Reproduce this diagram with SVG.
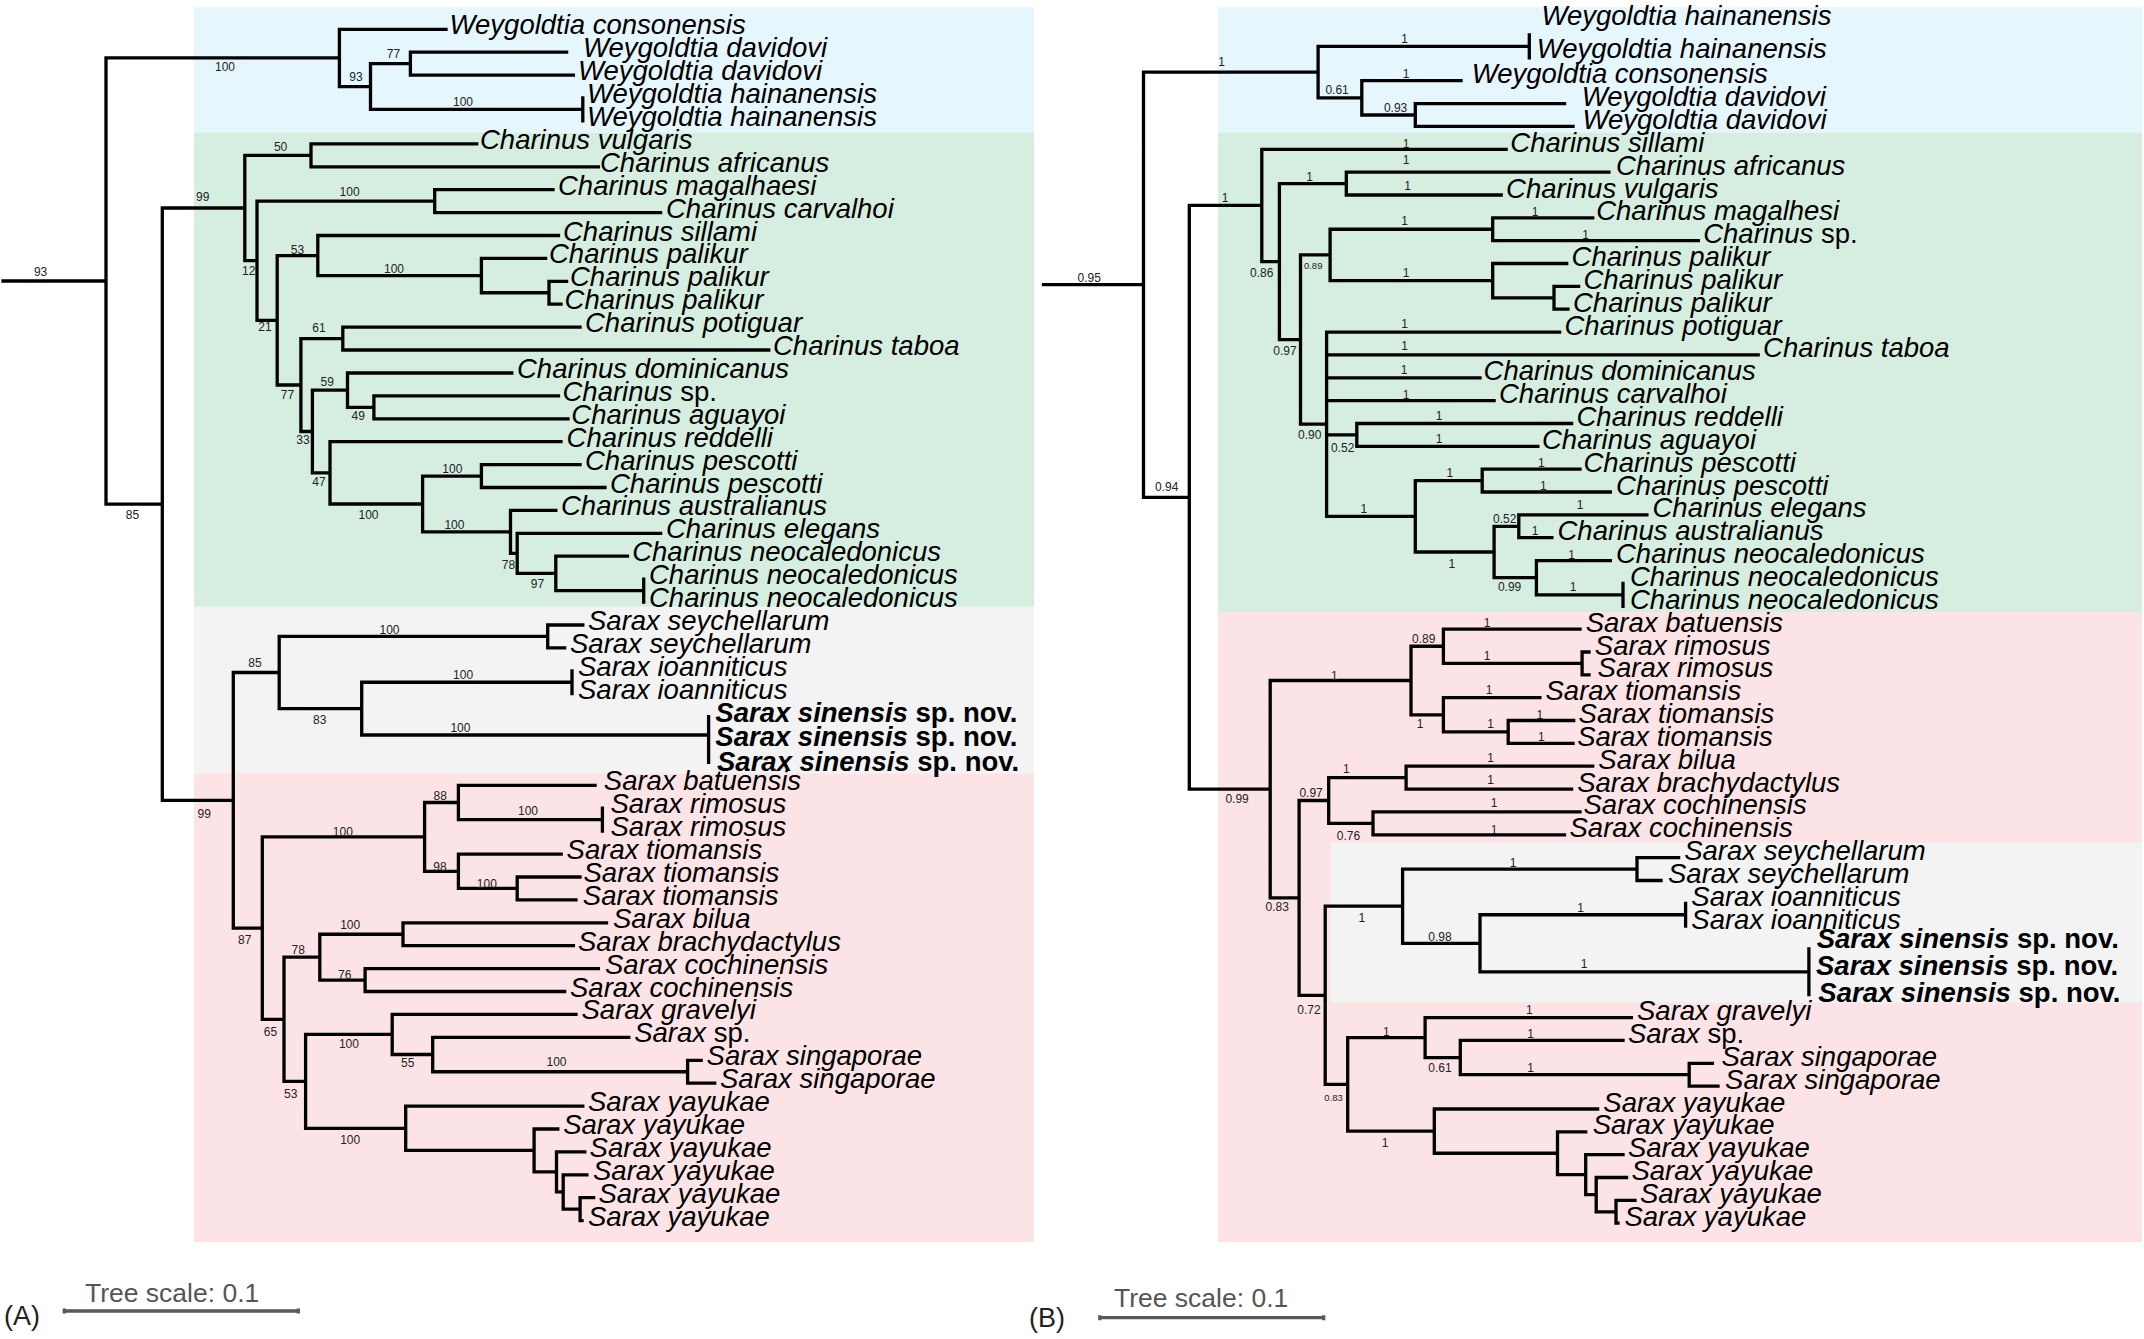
<svg xmlns="http://www.w3.org/2000/svg" width="2144" height="1339" viewBox="0 0 2144 1339">
<style>
.bg-b{fill:#E6F6FD}.bg-g{fill:#D6EEE0}.bg-r{fill:#FCE4E6}.bg-y{fill:#F3F3F3}
.edge{fill:none;stroke:#000;stroke-width:3.3;stroke-linecap:square}
.lf{font-family:"Liberation Sans",Arial,sans-serif;font-style:italic;font-size:27.5px;fill:#000}
.bd{font-weight:bold}
.bs{font-family:"Liberation Sans",Arial,sans-serif;font-size:12px;fill:#222;text-anchor:middle}
.sm{font-size:9.5px}
.sc{font-family:"Liberation Sans",Arial,sans-serif;font-size:26.5px;fill:#555}
.pl{font-family:"Liberation Sans",Arial,sans-serif;font-size:27px;fill:#222}
.bar{fill:none;stroke:#595959;stroke-width:3.3}
</style>
<g id="backgrounds">
<rect class="bg-b" x="194" y="7.3" width="840" height="125.4"/>
<rect class="bg-g" x="194" y="132.7" width="840" height="474"/>
<rect class="bg-y" x="194" y="606.7" width="840" height="166.6"/>
<rect class="bg-r" x="194" y="773.3" width="840" height="469"/>
<rect class="bg-b" x="1218" y="7.3" width="924" height="125.4"/>
<rect class="bg-g" x="1218" y="132.7" width="924" height="479.3"/>
<rect class="bg-r" x="1218" y="612" width="924" height="630.3"/>
<rect class="bg-y" x="1330.8" y="842.7" width="811.2" height="160"/>
</g>
<g id="connectors">
<path id="edges-A" class="edge" d="M3,281H106M106,57.9V504.15M106,57.9H339.4M106,504.15H162.3
M339.4,29.3V86.55M339.4,29.3H446M339.4,86.55H370.5M370.5,63.65V109.45M370.5,63.65H410.4M410.4,52.2V75.1M410.4,52.2H566.6M410.4,75.1H573.4M370.5,109.45H582.8M582.8,98V120.9
M162.3,208V800.3M162.3,208H244.8M244.8,155.35V260.7M244.8,155.35H311M311,143.9V166.8M311,143.9H476.7M311,166.8H598.4M244.8,260.7H257M257,201.15V320.3M257,201.15H434.7M434.7,189.7V212.6M434.7,189.7H553M434.7,212.6H660.6M257,320.3H277.2M277.2,255.55V385M277.2,255.55H317.8M317.8,235.5V275.6M317.8,235.5H558.5M317.8,275.6H481.4M481.4,258.4V292.75M481.4,258.4H545.6M481.4,292.75H549M549,281.3V304.2M549,281.3H566.6M549,304.2H561
M277.2,385H300.9M300.9,338.55V431.5M300.9,338.55H342.8M342.8,327.1V350M342.8,327.1H580M342.8,350H768.8M300.9,431.5H312.4M312.4,390.2V472.85M312.4,390.2H347.5M347.5,373V407.35M347.5,373H511.8M347.5,407.35H373.9M373.9,395.9V418.8M373.9,395.9H558.5M373.9,418.8H568
M312.4,472.85H330M330,441.7V504M330,441.7H561M330,504H422.6M422.6,476.05V531.9M422.6,476.05H481.4M481.4,464.6V487.5M481.4,464.6H580M481.4,487.5H605M422.6,531.9H510.5M510.5,510.4V553.35M510.5,510.4H555.8M510.5,553.35H517.2M517.2,533.3V573.4M517.2,533.3H660.6M517.2,573.4H555.8M555.8,556.2V590.6M555.8,556.2H627.5M555.8,590.6H643.7M643.7,579.1V602.1
M162.3,800.3H233.3M233.3,672.5V928.1M233.3,672.5H279.2M279.2,636.45V708.6M279.2,636.45H547.7M547.7,625V647.9M547.7,625H582.8M547.7,647.9H564.6M279.2,708.6H361.7M361.7,682.25V735M361.7,682.25H572M572,670.8V693.7M361.7,735H708.6M708.6,716.6V762.4
M233.3,928.1H262.3M262.3,836.9V1019.3M262.3,836.9H424.6M424.6,802.5V871.3M424.6,802.5H458.4M458.4,785.3V819.7M458.4,785.3H595M458.4,819.7H602.4M602.4,808.2V831.2M424.6,871.3H458.4M458.4,854.1V888.45M458.4,854.1H561.2M458.4,888.45H517.2M517.2,877V899.9M517.2,877H580M517.2,899.9H576
M262.3,1019.3H284M284,957.15V1081.4M284,957.15H319.8M319.8,934.25V980.05M319.8,934.25H403M403,922.8V945.7M403,922.8H606.5M403,945.7H573.4M319.8,980.05H365.1M365.1,968.6V991.5M365.1,968.6H598.4M365.1,991.5H564.6
M284,1081.4H305.6M305.6,1034.45V1128.3M305.6,1034.45H392.2M392.2,1014.4V1054.5M392.2,1014.4H576M392.2,1054.5H432.7M432.7,1037.3V1071.75M432.7,1037.3H628.8M432.7,1071.75H687.6M687.6,1060.3V1083.2M687.6,1060.3H701.1M687.6,1083.2H714.7
M305.6,1128.3H405.7M405.7,1106.1V1150.45M405.7,1106.1H582.8M405.7,1150.45H534.1M534.1,1129V1171.9M534.1,1129H557.8M534.1,1171.9H556.5M556.5,1151.9V1191.95M556.5,1151.9H584.8M556.5,1191.95H563.2M563.2,1174.8V1209.15M563.2,1174.8H586.9M563.2,1209.15H580.1M580.1,1197.7V1220.6M580.1,1197.7H593.6M580.1,1220.6H582"/>
<path id="edges-B" class="edge" d="M1043.5,284.7H1143.5M1143.5,72.15V497.3M1143.5,72.15H1318.1M1318.1,46.45V97.85M1318.1,46.45H1529.3M1529.3,35V57.9M1318.1,97.85H1361.8M1361.8,80.7V115M1361.8,80.7H1461M1361.8,115H1415.3M1415.3,103.6V126.4M1415.3,103.6H1564.5M1415.3,126.4H1573
M1143.5,497.3H1189.3M1189.3,205.45V789.2M1189.3,205.45H1261.8M1261.8,149.3V261.6M1261.8,149.3H1506.1M1261.8,261.6H1279.4M1279.4,183.55V339.6M1279.4,183.55H1346.3M1346.3,172.1V195M1346.3,172.1H1608.9M1346.3,195H1501.2M1279.4,339.6H1300.5M1300.5,254.95V424.2M1300.5,254.95H1330.1M1330.1,229.25V280.65M1330.1,229.25H1492.7M1492.7,217.8V240.7M1492.7,217.8H1592.7M1492.7,240.7H1698.3M1330.1,280.65H1492.7M1492.7,263.5V297.8M1492.7,263.5H1566.7M1492.7,297.8H1554M1554,286.4V309.2M1554,286.4H1578.6M1554,309.2H1568
M1300.5,424.2H1326.6M1326.6,332.1V516.3M1326.6,332.1H1559.6M1326.6,354.9H1758.2M1326.6,377.8H1480M1326.6,400.6H1494.1M1326.6,434.9H1356.8M1356.8,423.5V446.3M1356.8,423.5H1571.6M1356.8,446.3H1537.8M1326.6,516.3H1415.3M1415.3,480.6V552M1415.3,480.6H1482.2M1482.2,469.2V492M1482.2,469.2H1580M1482.2,492H1610.3M1415.3,552H1494.1M1494.1,526.3V577.7M1494.1,526.3H1518.8M1518.8,514.9V537.7M1518.8,514.9H1646.9M1518.8,537.7H1551.9M1494.1,577.7H1536.4M1536.4,560.6V594.85M1536.4,560.6H1610.3M1536.4,594.85H1623M1623,583.4V606.3
M1189.3,789.2H1270.2M1270.2,680.5V897.9M1270.2,680.5H1411M1411,646.25V714.8M1411,646.25H1443.4M1443.4,629.1V663.4M1443.4,629.1H1580M1443.4,663.4H1582.1M1582.1,652V674.8M1582.1,652H1589M1582.1,674.8H1589M1411,714.8H1443.4M1443.4,697.7V731.95M1443.4,697.7H1539.9M1443.4,731.95H1508.2M1508.2,720.5V743.4M1508.2,720.5H1573.7M1508.2,743.4H1573
M1270.2,897.9H1299.1M1299.1,800.5V995.3M1299.1,800.5H1328.7M1328.7,777.65V823.35M1328.7,777.65H1406.1M1406.1,766.2V789.1M1406.1,766.2H1592.7M1406.1,789.1H1571.6M1328.7,823.35H1373M1373,811.9V834.8M1373,811.9H1580M1373,834.8H1564.5
M1299.1,995.3H1325.2M1325.2,906.2V1084.35M1325.2,906.2H1402.6M1402.6,869.05V943.3M1402.6,869.05H1637M1637,857.6V880.5M1637,857.6H1678.6M1637,880.5H1661M1402.6,943.3H1480M1480,914.75V971.85M1480,914.75H1685.6M1685.6,903.3V926.2M1480,971.85H1808.9M1808.9,949V994.7
M1325.2,1084.35H1347.7M1347.7,1037.6V1131.1M1347.7,1037.6H1425.1M1425.1,1017.6V1057.55M1425.1,1017.6H1631.4M1425.1,1057.55H1460.3M1460.3,1040.4V1074.7M1460.3,1040.4H1623M1460.3,1074.7H1689.2M1689.2,1063.3V1086.1M1689.2,1063.3H1712.4M1689.2,1086.1H1718
M1347.7,1131.1H1434.3M1434.3,1109V1153.25M1434.3,1109H1597.6M1434.3,1153.25H1557.5M1557.5,1131.8V1174.7M1557.5,1131.8H1585.7M1557.5,1174.7H1585.7M1585.7,1154.7V1194.65M1585.7,1154.7H1623M1585.7,1194.65H1596.2M1596.2,1177.5V1211.8M1596.2,1177.5H1626.5M1596.2,1211.8H1616M1616,1200.4V1223.2M1616,1200.4H1635M1616,1223.2H1618"/>
</g>
<g id="support-A" class="bs">
<text x="40.6" y="276">93</text><text x="225" y="71">100</text><text x="356" y="81">93</text><text x="393.5" y="57.6">77</text><text x="463" y="106">100</text>
<text x="280.6" y="151">50</text><text x="202.8" y="201">99</text><text x="349.6" y="196">100</text><text x="248.8" y="275">12</text><text x="297.5" y="253.6">53</text><text x="394" y="272.6">100</text>
<text x="265" y="331.3">21</text><text x="319" y="332.3">61</text><text x="287.4" y="399.3">77</text><text x="327.2" y="386">59</text><text x="358.3" y="420">49</text><text x="303" y="444.3">33</text><text x="319" y="486">47</text>
<text x="452.3" y="473.3">100</text><text x="368.5" y="519.3">100</text><text x="454.4" y="529.3">100</text><text x="508.4" y="569.3">78</text><text x="537.5" y="587.6">97</text><text x="132.5" y="519.3">85</text>
<text x="389.5" y="633.6">100</text><text x="254.9" y="666.6">85</text><text x="463.1" y="679.3">100</text><text x="319.8" y="724.3">83</text><text x="460.4" y="732">100</text><text x="204.2" y="817.6">99</text>
<text x="440.2" y="800.3">88</text><text x="528" y="815.3">100</text><text x="342.8" y="836">100</text><text x="440" y="871">98</text><text x="486.8" y="887.6">100</text><text x="244.8" y="944.3">87</text>
<text x="298.2" y="953.6">78</text><text x="350.2" y="928.6">100</text><text x="344.8" y="978.6">76</text><text x="270.4" y="1036">65</text><text x="348.9" y="1048.3">100</text><text x="407.7" y="1067">55</text>
<text x="556.5" y="1066">100</text><text x="290.7" y="1097.6">53</text><text x="350.2" y="1143.6">100</text>
</g>
<g id="support-B" class="bs">
<text x="1089.3" y="281.6">0.95</text><text x="1221.7" y="66">1</text><text x="1404.7" y="42.6">1</text><text x="1337.1" y="94.3">0.61</text><text x="1406.1" y="77.6">1</text><text x="1395.6" y="111.6">0.93</text>
<text x="1166.7" y="491">0.94</text><text x="1225.2" y="201.6">1</text><text x="1406.1" y="147.6">1</text><text x="1261.8" y="277">0.86</text><text x="1309.7" y="181">1</text><text x="1406.1" y="163.6">1</text><text x="1407.5" y="190">1</text>
<text x="1285" y="355">0.97</text><text class="sm" x="1313.2" y="269">0.89</text><text x="1404.7" y="225">1</text><text x="1535" y="216">1</text><text x="1585.7" y="239.3">1</text><text x="1406.1" y="277">1</text>
<text x="1309.7" y="438.6">0.90</text><text x="1404.7" y="327.6">1</text><text x="1404.7" y="350.3">1</text><text x="1404" y="373.6">1</text><text x="1406.1" y="399.3">1</text><text x="1342.7" y="452">0.52</text>
<text x="1439.2" y="420.3">1</text><text x="1439.2" y="443.3">1</text><text x="1363.9" y="513.3">1</text><text x="1449.8" y="477">1</text><text x="1541.3" y="467">1</text><text x="1543.4" y="490">1</text>
<text x="1451.9" y="568.3">1</text><text x="1504.7" y="523.3">0.52</text><text x="1580" y="509.3">1</text><text x="1535" y="535.3">1</text><text x="1509.6" y="591">0.99</text><text x="1571.6" y="559.3">1</text><text x="1573" y="591">1</text>
<text x="1237.1" y="803.3">0.99</text><text x="1334.3" y="680.3">1</text><text x="1423.7" y="642.6">0.89</text><text x="1487.1" y="627">1</text><text x="1487.1" y="660.3">1</text><text x="1420.2" y="728.3">1</text>
<text x="1489.2" y="693.6">1</text><text x="1490.6" y="728.3">1</text><text x="1539.9" y="718.6">1</text><text x="1541.3" y="741">1</text>
<text x="1277.3" y="911">0.83</text><text x="1311.1" y="797">0.97</text><text x="1346.3" y="773.3">1</text><text x="1490.6" y="761.6">1</text><text x="1490.6" y="784.3">1</text><text x="1348.4" y="840.3">0.76</text>
<text x="1494.1" y="807">1</text><text x="1494.1" y="833.6">1</text><text x="1309" y="1013.6">0.72</text><text x="1361.8" y="922">1</text><text x="1513.1" y="866.6">1</text><text x="1439.9" y="941">0.98</text>
<text x="1580.7" y="911.6">1</text><text x="1584.2" y="968.3">1</text><text class="sm" x="1333.6" y="1100.5">0.83</text><text x="1386.4" y="1036">1</text><text x="1529.3" y="1014.3">1</text>
<text x="1439.9" y="1071.6">0.61</text><text x="1530.7" y="1038.3">1</text><text x="1530.7" y="1071.6">1</text><text x="1385" y="1146.6">1</text>
</g>
<g id="leaves-A" class="lf">
<g id="A-n00"><text x="449.6" y="34.3">Weygoldtia consonensis</text></g>
<g id="A-n01"><text x="583" y="57.2">Weygoldtia davidovi</text></g>
<g id="A-n02"><text x="578" y="80.1">Weygoldtia davidovi</text></g>
<g id="A-n03"><text x="587" y="103">Weygoldtia hainanensis</text></g>
<g id="A-n04"><text x="587" y="125.9">Weygoldtia hainanensis</text></g>
<g id="A-n05"><text x="480" y="148.9">Charinus vulgaris</text></g>
<g id="A-n06"><text x="600" y="171.8">Charinus africanus</text></g>
<g id="A-n07"><text x="558" y="194.7">Charinus magalhaesi</text></g>
<g id="A-n08"><text x="666" y="217.6">Charinus carvalhoi</text></g>
<g id="A-n09"><text x="563" y="240.5">Charinus sillami</text></g>
<g id="A-n10"><text x="549" y="263.4">Charinus palikur</text></g>
<g id="A-n11"><text x="570" y="286.3">Charinus palikur</text></g>
<g id="A-n12"><text x="564.6" y="309.2">Charinus palikur</text></g>
<g id="A-n13"><text x="585" y="332.1">Charinus potiguar</text></g>
<g id="A-n14"><text x="773" y="355">Charinus taboa</text></g>
<g id="A-n15"><text x="517" y="378">Charinus dominicanus</text></g>
<g id="A-n16"><text x="562.5" y="400.9">Charinus <tspan font-style="normal">sp.</tspan></text></g>
<g id="A-n17"><text x="571.3" y="423.8">Charinus aguayoi</text></g>
<g id="A-n18"><text x="566.6" y="446.7">Charinus reddelli</text></g>
<g id="A-n19"><text x="585" y="469.6">Charinus pescotti</text></g>
<g id="A-n20"><text x="610" y="492.5">Charinus pescotti</text></g>
<g id="A-n21"><text x="561" y="515.4">Charinus australianus</text></g>
<g id="A-n22"><text x="666" y="538.3">Charinus elegans</text></g>
<g id="A-n23"><text x="632.2" y="561.2">Charinus neocaledonicus</text></g>
<g id="A-n24"><text x="649" y="584.1">Charinus neocaledonicus</text></g>
<g id="A-n25"><text x="649" y="607.1">Charinus neocaledonicus</text></g>
<g id="A-n26"><text x="588" y="630">Sarax seychellarum</text></g>
<g id="A-n27"><text x="570" y="652.9">Sarax seychellarum</text></g>
<g id="A-n28"><text x="578" y="675.8">Sarax ioanniticus</text></g>
<g id="A-n29"><text x="578" y="698.7">Sarax ioanniticus</text></g>
<g id="A-n30"><text class="bd" x="715.3" y="722">Sarax sinensis<tspan font-style="normal"> sp. nov.</tspan></text></g>
<g id="A-n31"><text class="bd" x="715.3" y="746">Sarax sinensis<tspan font-style="normal"> sp. nov.</tspan></text></g>
<g id="A-n32"><text class="bd" x="717" y="770.5">Sarax sinensis<tspan font-style="normal"> sp. nov.</tspan></text></g>
<g id="A-n33"><text x="603.8" y="790.3">Sarax batuensis</text></g>
<g id="A-n34"><text x="610.5" y="813.2">Sarax rimosus</text></g>
<g id="A-n35"><text x="610.5" y="836.2">Sarax rimosus</text></g>
<g id="A-n36"><text x="566.6" y="859.1">Sarax tiomansis</text></g>
<g id="A-n37"><text x="583.5" y="882">Sarax tiomansis</text></g>
<g id="A-n38"><text x="582.8" y="904.9">Sarax tiomansis</text></g>
<g id="A-n39"><text x="613" y="927.8">Sarax bilua</text></g>
<g id="A-n40"><text x="578" y="950.7">Sarax brachydactylus</text></g>
<g id="A-n41"><text x="605" y="973.6">Sarax cochinensis</text></g>
<g id="A-n42"><text x="570" y="996.5">Sarax cochinensis</text></g>
<g id="A-n43"><text x="581.5" y="1019.4">Sarax gravelyi</text></g>
<g id="A-n44"><text x="634.2" y="1042.3">Sarax <tspan font-style="normal">sp.</tspan></text></g>
<g id="A-n45"><text x="706.6" y="1065.3">Sarax singaporae</text></g>
<g id="A-n46"><text x="720" y="1088.2">Sarax singaporae</text></g>
<g id="A-n47"><text x="588" y="1111.1">Sarax yayukae</text></g>
<g id="A-n48"><text x="563.2" y="1134">Sarax yayukae</text></g>
<g id="A-n49"><text x="589.6" y="1156.9">Sarax yayukae</text></g>
<g id="A-n50"><text x="593" y="1179.8">Sarax yayukae</text></g>
<g id="A-n51"><text x="598.4" y="1202.7">Sarax yayukae</text></g>
<g id="A-n52"><text x="588" y="1225.6">Sarax yayukae</text></g>
</g>
<g id="leaves-B" class="lf">
<g id="B-n00"><text x="1541.5" y="25">Weygoldtia hainanensis</text></g>
<g id="B-n01"><text x="1536.7" y="57.5">Weygoldtia hainanensis</text></g>
<g id="B-n02"><text x="1471.7" y="83.2">Weygoldtia consonensis</text></g>
<g id="B-n03"><text x="1581.7" y="106.1">Weygoldtia davidovi</text></g>
<g id="B-n04"><text x="1582.5" y="128.9">Weygoldtia davidovi</text></g>
<g id="B-n05"><text x="1510.3" y="151.8">Charinus sillami</text></g>
<g id="B-n06"><text x="1616" y="174.6">Charinus africanus</text></g>
<g id="B-n07"><text x="1506.1" y="197.5">Charinus vulgaris</text></g>
<g id="B-n08"><text x="1596.2" y="220.3">Charinus magalhesi</text></g>
<g id="B-n09"><text x="1703.2" y="243.2">Charinus <tspan font-style="normal">sp.</tspan></text></g>
<g id="B-n10"><text x="1571.6" y="266">Charinus palikur</text></g>
<g id="B-n11"><text x="1583.5" y="288.9">Charinus palikur</text></g>
<g id="B-n12"><text x="1573" y="311.7">Charinus palikur</text></g>
<g id="B-n13"><text x="1564.5" y="334.6">Charinus potiguar</text></g>
<g id="B-n14"><text x="1763.1" y="357.4">Charinus taboa</text></g>
<g id="B-n15"><text x="1483.6" y="380.3">Charinus dominicanus</text></g>
<g id="B-n16"><text x="1499" y="403.1">Charinus carvalhoi</text></g>
<g id="B-n17"><text x="1576.5" y="426">Charinus reddelli</text></g>
<g id="B-n18"><text x="1542" y="448.8">Charinus aguayoi</text></g>
<g id="B-n19"><text x="1583.5" y="471.7">Charinus pescotti</text></g>
<g id="B-n20"><text x="1616" y="494.5">Charinus pescotti</text></g>
<g id="B-n21"><text x="1652.5" y="517.4">Charinus elegans</text></g>
<g id="B-n22"><text x="1557.5" y="540.2">Charinus australianus</text></g>
<g id="B-n23"><text x="1616" y="563.1">Charinus neocaledonicus</text></g>
<g id="B-n24"><text x="1630" y="585.9">Charinus neocaledonicus</text></g>
<g id="B-n25"><text x="1630" y="608.8">Charinus neocaledonicus</text></g>
<g id="B-n26"><text x="1585.7" y="631.6">Sarax batuensis</text></g>
<g id="B-n27"><text x="1594.8" y="654.5">Sarax rimosus</text></g>
<g id="B-n28"><text x="1597.6" y="677.3">Sarax rimosus</text></g>
<g id="B-n29"><text x="1545.5" y="700.2">Sarax tiomansis</text></g>
<g id="B-n30"><text x="1578.6" y="723">Sarax tiomansis</text></g>
<g id="B-n31"><text x="1577.2" y="745.9">Sarax tiomansis</text></g>
<g id="B-n32"><text x="1598.3" y="768.7">Sarax bilua</text></g>
<g id="B-n33"><text x="1577.2" y="791.6">Sarax brachydactylus</text></g>
<g id="B-n34"><text x="1583.5" y="814.4">Sarax cochinensis</text></g>
<g id="B-n35"><text x="1569.5" y="837.3">Sarax cochinensis</text></g>
<g id="B-n36"><text x="1684.2" y="860.1">Sarax seychellarum</text></g>
<g id="B-n37"><text x="1668" y="883">Sarax seychellarum</text></g>
<g id="B-n38"><text x="1691.3" y="905.8">Sarax ioanniticus</text></g>
<g id="B-n39"><text x="1691.3" y="928.7">Sarax ioanniticus</text></g>
<g id="B-n40"><text class="bd" x="1816.7" y="948.3">Sarax sinensis<tspan font-style="normal"> sp. nov.</tspan></text></g>
<g id="B-n41"><text class="bd" x="1816" y="975">Sarax sinensis<tspan font-style="normal"> sp. nov.</tspan></text></g>
<g id="B-n42"><text class="bd" x="1818.3" y="1001.7">Sarax sinensis<tspan font-style="normal"> sp. nov.</tspan></text></g>
<g id="B-n43"><text x="1637" y="1020.1">Sarax gravelyi</text></g>
<g id="B-n44"><text x="1627.9" y="1042.9">Sarax <tspan font-style="normal">sp.</tspan></text></g>
<g id="B-n45"><text x="1721.5" y="1065.8">Sarax singaporae</text></g>
<g id="B-n46"><text x="1725.1" y="1088.6">Sarax singaporae</text></g>
<g id="B-n47"><text x="1603.3" y="1111.5">Sarax yayukae</text></g>
<g id="B-n48"><text x="1592.7" y="1134.3">Sarax yayukae</text></g>
<g id="B-n49"><text x="1627.9" y="1157.2">Sarax yayukae</text></g>
<g id="B-n50"><text x="1631.4" y="1180">Sarax yayukae</text></g>
<g id="B-n51"><text x="1639.9" y="1202.9">Sarax yayukae</text></g>
<g id="B-n52"><text x="1624.4" y="1225.7">Sarax yayukae</text></g>
</g>
<g id="scale-A">
<path class="bar" d="M64.3,1311H298.3M64.3,1308.5V1313.5M298.3,1308.5V1313.5"/>
<text class="sc" x="85" y="1301.7">Tree scale: 0.1</text>
<text class="pl" x="4" y="1325">(A)</text>
</g>
<g id="scale-B">
<path class="bar" d="M1099.8,1317.7H1323.7M1099.8,1315.2V1320.2M1323.7,1315.2V1320.2"/>
<text class="sc" x="1114" y="1306.7">Tree scale: 0.1</text>
<text class="pl" x="1029" y="1327">(B)</text>
</g>
</svg>
